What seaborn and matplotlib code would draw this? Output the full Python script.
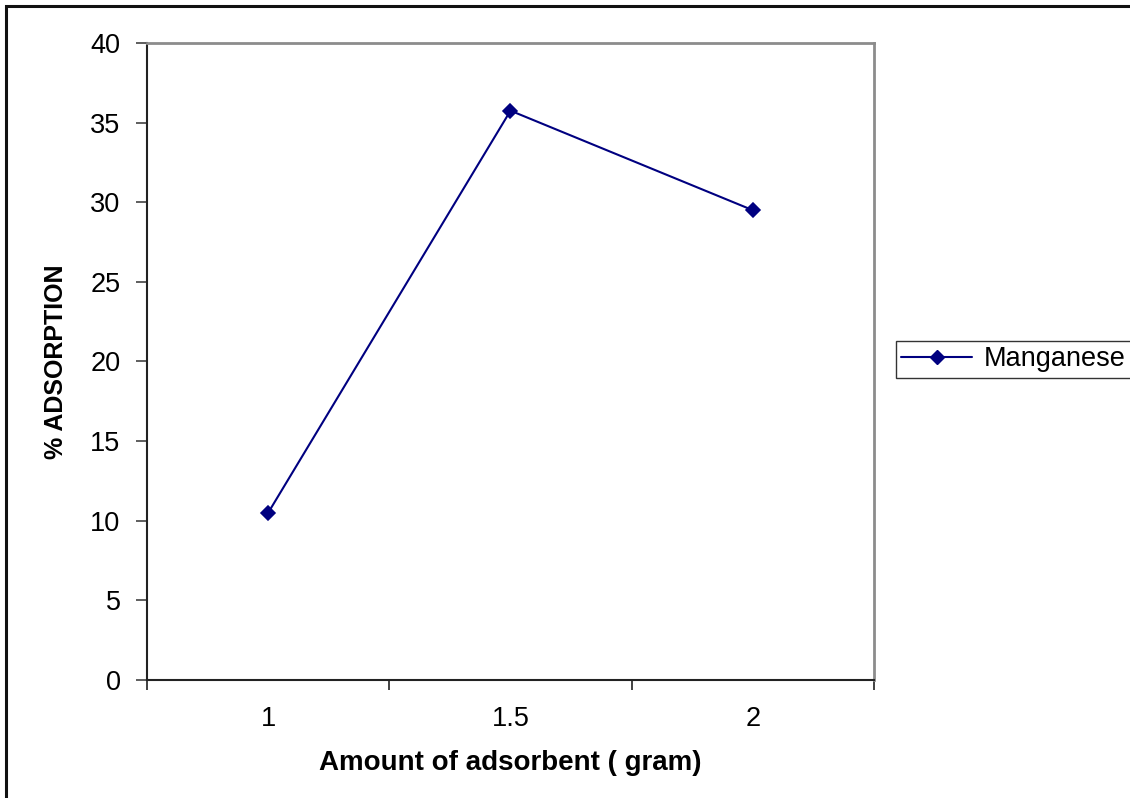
import matplotlib
matplotlib.use("Agg")
import matplotlib.pyplot as plt
from matplotlib.patches import Rectangle
from matplotlib.ticker import FixedLocator
import seaborn as sns
import pandas as pd

# Adsorbent dose (gram) vs. percentage of manganese adsorbed
doses = ["1", "1.5", "2"]
adsorption = [10.5, 35.75, 29.5]
series_name = "Manganese"
y_ticks = [0, 5, 10, 15, 20, 25, 30, 35, 40]

sns.set_theme(style="white")
plt.rcParams["font.family"] = ["Liberation Sans", "DejaVu Sans"]
plt.rcParams["text.color"] = "black"
plt.rcParams["axes.labelcolor"] = "black"

df = pd.DataFrame({"dose": doses, "adsorption": adsorption, "metal": series_name})

W, H = 1130, 798
fig = plt.figure(figsize=(W / 100, H / 100), dpi=100)
ax = fig.add_axes([147 / W, 1 - 680 / H, (874 - 147) / W, (680 - 43) / H])

line_color = "#000080"
sns.pointplot(data=df, x="dose", y="adsorption", hue="metal", palette=[line_color],
              markers="D", linestyles="-", ax=ax, errorbar=None,
              markersize=7.5, linewidth=1.5, legend=False)

ax.set_xlim(-0.5, len(doses) - 0.5)
ax.set_ylim(0, 40)
ax.set_yticks(y_ticks)
ax.set_yticklabels([str(t) for t in y_ticks], fontsize=19.5)
ax.set_xticks(range(len(doses)))
ax.set_xticklabels(doses, fontsize=19.5)
ax.xaxis.set_minor_locator(FixedLocator([i - 0.5 for i in range(len(doses) + 1)]))
ax.tick_params(axis="x", which="major", length=0, pad=19, labelcolor="black")
ax.tick_params(axis="x", which="minor", length=7, width=1.3, color="#333333", bottom=True)
ax.tick_params(axis="y", which="major", length=8, width=1.1, color="#333333",
               pad=11, left=True, labelcolor="black")

ax.set_xlabel("Amount of adsorbent ( gram)", fontsize=20, fontweight="bold", labelpad=13)
ax.set_ylabel("% ADSORPTION", fontsize=18, fontweight="bold", labelpad=16)

for side in ("left", "bottom"):
    ax.spines[side].set_color("#222222")
    ax.spines[side].set_linewidth(1.5)
for side in ("top", "right"):
    ax.spines[side].set_visible(True)
    ax.spines[side].set_color("#8c8c8c")
    ax.spines[side].set_linewidth(2)
ax.grid(False)

# Legend to the right of the plot area
handle = plt.Line2D([], [], color=line_color, marker="D", markersize=7.5, linewidth=1.5)
leg = fig.legend([handle], [series_name], loc="center left",
                 bbox_to_anchor=(896 / W, 1 - 359.5 / H), fontsize=19.5,
                 frameon=True, fancybox=False, borderpad=0.2, handlelength=2.6,
                 handletextpad=0.45, borderaxespad=0)
leg.get_frame().set_edgecolor("black")
leg.get_frame().set_linewidth(1.0)

# Chart border
fig.patches.append(Rectangle((6 / W, -0.05), 1.1, 1 - 5.5 / H + 0.05,
                             transform=fig.transFigure, fill=False,
                             edgecolor="#111111", linewidth=2.2))

fig.savefig("out.png", dpi=100)
